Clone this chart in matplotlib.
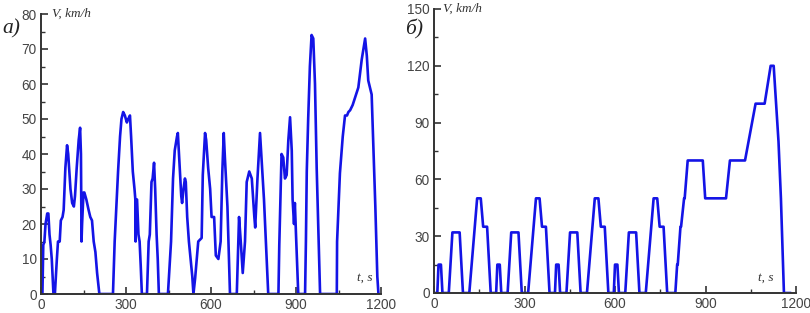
import matplotlib
matplotlib.use("Agg")
import matplotlib.pyplot as plt
from matplotlib.ticker import MultipleLocator

# ---- data: panel a (city cycle) ----
t_a = [0, 5, 8, 12, 16, 22, 26, 30, 34, 38, 44, 49, 56, 60, 66, 70, 76, 80, 86, 92,
       96, 100, 104, 110, 116, 120, 126, 133, 138, 141, 143, 145, 150, 153, 160, 168,
       174, 180, 186, 192, 198, 206, 254, 260, 266, 272, 279, 284, 290, 296, 303, 308,
       314, 318, 324, 330, 333, 334, 336, 339, 344, 348, 352, 356, 374, 380, 384, 390,
       394, 399, 403, 408, 412, 416, 448, 459, 466, 472, 480, 483, 487, 490, 495, 498,
       503, 508, 511, 516, 522, 528, 534, 538, 544, 555, 567, 571, 579, 583, 590, 597,
       602, 611, 617, 626, 634, 640, 645, 649, 658, 667, 691, 699, 705, 712, 720, 726,
       735, 744, 753, 756, 764, 773, 779, 787, 802, 838, 841, 849, 855, 861, 867, 873,
       879, 885, 888, 893, 896, 900, 908, 932, 935, 938, 943, 949, 955, 961, 967, 973,
       985, 1044, 1045, 1055, 1065, 1073, 1080, 1085, 1091, 1100, 1108, 1120, 1132,
       1144, 1150, 1155, 1167, 1173, 1180, 1187, 1191]
v_a = [0, 0, 14, 15, 20, 23, 23, 17, 14, 10, 0, 0, 10, 15, 15, 21, 22, 24, 36, 42.5,
       40, 35, 30, 26, 25, 28, 36, 44, 47.5, 40, 15, 20, 29, 29, 27, 24,
       22, 21, 15, 12, 6, 0, 0, 15, 25, 35, 45, 50, 52, 51, 49, 50,
       51, 45, 35, 30, 27, 15, 27, 27, 17, 15, 8, 0, 0, 15, 17, 32,
       33, 37.5, 30, 17, 10, 0, 0, 15, 33, 41, 45, 46, 40, 35, 28, 26,
       30, 33, 32, 22, 15, 10, 5, 0, 4.5, 15, 16, 34, 46, 44, 36, 30,
       22, 22, 11, 10, 15, 35, 46, 39, 25, 0, 0, 22, 15, 6, 15, 32,
       35, 33, 22, 19, 33, 46, 38, 27, 0, 0, 14, 40, 39, 33, 34, 44,
       50.5, 41, 27, 20, 26, 17, 0, 0, 15, 35, 50, 65, 74, 73, 60, 36,
       0, 0, 15, 34.5, 45, 51, 51, 52, 52.5, 54, 56, 59, 67,
       73, 68, 61, 57, 42, 25, 5, 0]

# ---- data: panel б (NEDC) ----
ece_t = [0, 11, 15, 23, 28, 49, 61, 85, 96, 117, 143, 155, 163, 176, 188, 195]
ece_v = [0, 0, 15, 15, 0, 0, 32, 32, 0, 0, 50, 50, 35, 35, 0, 0]
eudc_t = [800, 806, 808, 817, 819, 829, 831, 841, 891, 899, 968, 981, 1031, 1066,
          1096, 1116, 1126, 1142, 1150, 1160, 1180]
eudc_v = [0, 15, 15, 35, 35, 50, 50, 70, 70, 50, 50, 70, 70, 100,
          100, 120, 120, 80, 50, 0, 0]
n_ece = 4
ece_period = 195

t_b = []
v_b = []
for k in range(n_ece):
    for tt, vv in zip(ece_t, ece_v):
        t_b.append(tt + k * ece_period)
        v_b.append(vv)
t_b += eudc_t
v_b += eudc_v

W, H = 810, 313
fig = plt.figure(figsize=(W / 100, H / 100), dpi=100)
fig.patch.set_facecolor("white")

line_color = "#1414e6"
axis_color = "#333333"
tick_font = "Liberation Sans"


def style(ax, ymax, ymaj, ymin):
    ax.set_xlim(0, 1200)
    ax.set_ylim(0, ymax)
    for s in ("top", "right"):
        ax.spines[s].set_visible(False)
    for s in ("left", "bottom"):
        ax.spines[s].set_color(axis_color)
        ax.spines[s].set_linewidth(1.4)
    ax.xaxis.set_major_locator(MultipleLocator(300))
    ax.xaxis.set_minor_locator(MultipleLocator(150))
    ax.yaxis.set_major_locator(MultipleLocator(ymaj))
    ax.yaxis.set_minor_locator(MultipleLocator(ymin))
    ax.tick_params(which="major", direction="in", length=5, width=1.2,
                   color=axis_color, labelsize=9.8, labelcolor="#444444", pad=3)
    ax.tick_params(which="minor", direction="in", length=3, width=1.0,
                   color=axis_color)
    for lab in ax.get_xticklabels() + ax.get_yticklabels():
        lab.set_fontfamily(tick_font)


ax1 = fig.add_axes([41 / W, 19 / H, 340 / W, 280 / H])
ax1.plot(t_a, v_a, color=line_color, lw=1.9, solid_joinstyle="round")
style(ax1, 80, 10, 5)
ax1.text(40, 80, "V, km/h", fontsize=9.5,
         fontstyle="italic", family="Liberation Serif", va="center", ha="left",
         color="#333333")
ax1.text(1115, 3, "t, s", fontsize=9.5, fontstyle="italic",
         family="Liberation Serif", va="bottom", ha="left", color="#333333")

ax2 = fig.add_axes([434 / W, 20 / H, 362 / W, 284 / H])
ax2.plot(t_b, v_b, color=line_color, lw=1.9, solid_joinstyle="round")
style(ax2, 150, 30, 15)
ax2.text(30, 150, "V, km/h", fontsize=9.5, fontstyle="italic",
         family="Liberation Serif", va="center", ha="left", color="#333333")
ax2.text(1075, 5, "t, s", fontsize=9.5, fontstyle="italic",
         family="Liberation Serif", va="bottom", ha="left", color="#333333")

fig.text(2 / W, 1 - 29 / H, "а)", fontsize=15.5, fontstyle="italic",
         family="Liberation Serif", va="center", ha="left", color="#222222")
fig.text(405 / W, 1 - 29 / H, "б)", fontsize=15.5, fontstyle="italic",
         family="Liberation Serif", va="center", ha="left", color="#222222")

fig.savefig("out.png", dpi=100)
